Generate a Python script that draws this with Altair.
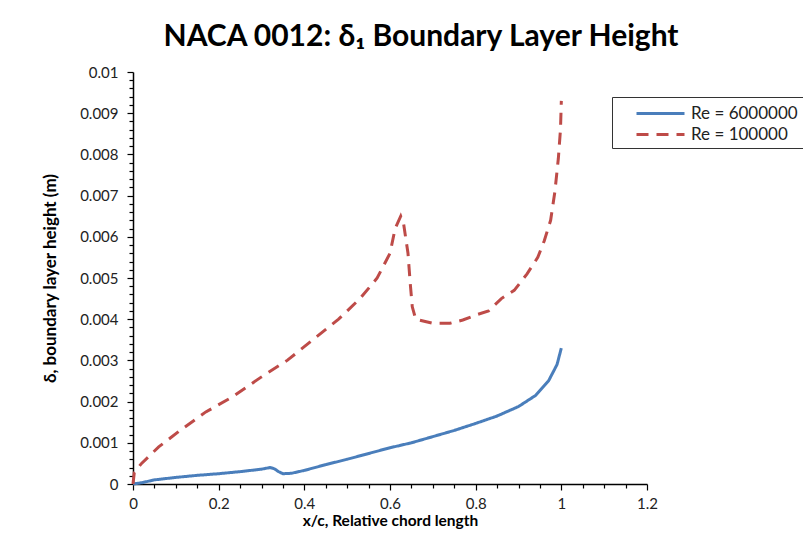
import altair as alt
import pandas as pd

# Re = 6,000,000 (blue, solid)
x_hi = [0, 0.02, 0.05, 0.10, 0.15, 0.20, 0.25, 0.30, 0.32, 0.33, 0.34, 0.35, 0.37, 0.40,
        0.45, 0.50, 0.55, 0.60, 0.65, 0.70, 0.75, 0.80, 0.85, 0.90, 0.94, 0.97, 0.99, 1.0]
y_hi = [0, 0.00003, 0.0001, 0.00016, 0.00021, 0.00025, 0.0003, 0.00036, 0.0004, 0.00037,
        0.0003, 0.00025, 0.00026, 0.00033, 0.00047, 0.0006, 0.00074, 0.00088, 0.001, 0.00115,
        0.0013, 0.00147, 0.00165, 0.00188, 0.00215, 0.0025, 0.0029, 0.0033]

# Re = 100,000 (red, dashed)
x_lo = [0, 0.003, 0.02, 0.06, 0.11, 0.17, 0.23, 0.30, 0.36, 0.42, 0.48, 0.53, 0.57, 0.60,
        0.612, 0.625, 0.632, 0.642, 0.647, 0.652, 0.66, 0.70, 0.74, 0.77, 0.80, 0.83, 0.86,
        0.89, 0.92, 0.945, 0.96, 0.975, 0.985, 0.993, 0.998, 1.0]
y_lo = [0, 0.00028, 0.0005, 0.0009, 0.0013, 0.00175, 0.0021, 0.0026, 0.003, 0.0035, 0.004,
        0.0045, 0.005, 0.0056, 0.0062, 0.0065, 0.0063, 0.0056, 0.0049, 0.0043, 0.004, 0.0039,
        0.0039, 0.00398, 0.0041, 0.0042, 0.0045, 0.0047, 0.0051, 0.0055, 0.0059, 0.0064,
        0.0071, 0.0079, 0.0086, 0.0093]

series_names = ["Re = 6000000", "Re = 100000"]
colors = ["#4A7EBB", "#BE4B48"]

rows = []
for i, (x, y) in enumerate(zip(x_hi, y_hi)):
    rows.append({"x": x, "y": y, "series": series_names[0], "i": i})
for i, (x, y) in enumerate(zip(x_lo, y_lo)):
    rows.append({"x": x, "y": y, "series": series_names[1], "i": i})
df = pd.DataFrame(rows)

x_ticks = [round(0.05 * k, 2) for k in range(25)]
y_ticks = [round(0.0002 * k, 4) for k in range(51)]

font = "Lato"

legend_opts = dict(title=None, orient="none", legendX=479, legendY=25,
                   strokeColor="#333333", fillColor="white", padding=5,
                   symbolType="M-2.4,0H2.4", symbolSize=400, symbolStrokeWidth=3,
                   symbolOffset=32, labelOffset=19, rowPadding=1,
                   labelFontSize=17, labelFont=font, labelColor="#222222")

chart = alt.Chart(df).mark_line(strokeWidth=3, clip=False).encode(
    x=alt.X("x:Q", scale=alt.Scale(domain=[0, 1.2], nice=False),
            axis=alt.Axis(title="x/c, Relative chord length", values=x_ticks,
                          labelExpr="round(datum.value*20) % 4 == 0 ? format(datum.value, '.1~f') : ''",
                          tickSize={"condition": {"test": "round(datum.value*20) % 4 == 0", "value": 6}, "value": 4},
                          grid=False, labelFlush=False, labelPadding=6, titlePadding=2,
                          titleFontSize=15.5)),
    y=alt.Y("y:Q", scale=alt.Scale(domain=[0, 0.01], nice=False),
            axis=alt.Axis(title="δ, boundary layer height (m)", values=y_ticks,
                          labelExpr="round(datum.value*5000) % 5 == 0 ? format(datum.value, '.3~f') : ''",
                          tickSize={"condition": {"test": "round(datum.value*5000) % 5 == 0", "value": 6}, "value": 4},
                          grid=False, labelFlush=False, labelPadding=9, titlePadding=20,
                          titleFontSize=17)),
    color=alt.Color("series:N", scale=alt.Scale(domain=series_names, range=colors),
                    legend=alt.Legend(**legend_opts)),
    strokeDash=alt.StrokeDash("series:N", scale=alt.Scale(domain=series_names, range=[[1, 0], [12, 8]]),
                              legend=alt.Legend(**legend_opts)),
    order="i:Q",
).properties(
    width=514, height=412,
    title=alt.TitleParams("NACA 0012: δ₁ Boundary Layer Height", fontSize=30, font=font,
                          fontWeight="bold", color="black", dx=31, offset=13),
    autosize=alt.AutoSizeParams(type="none"),
    padding={"left": 125, "top": 64, "right": 156, "bottom": 45},
).configure_view(stroke=None).configure_axis(
    domainColor="black", tickColor="black", domainWidth=1.5, tickWidth=1.2,
    labelFont=font, labelFontSize=15, labelColor="#222222",
    titleFont=font, titleFontWeight="bold", titleColor="black",
)

chart.save("out.html", embed_options={"renderer": "svg", "actions": False})
